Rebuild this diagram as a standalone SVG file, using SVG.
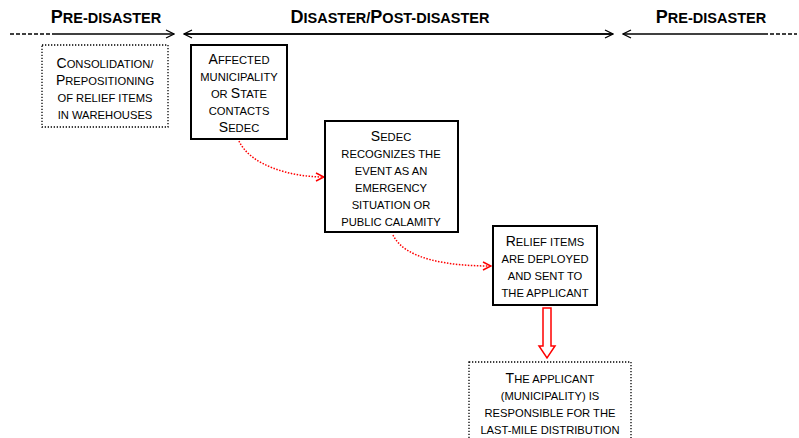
<svg xmlns="http://www.w3.org/2000/svg" width="799" height="438" viewBox="0 0 799 438">
<defs>
<style>
.t{font-family:"Liberation Sans",Arial,sans-serif;font-size:11.2px;fill:#000;text-anchor:middle}
.t .b{font-size:14px}
.h{font-family:"Liberation Sans",Arial,sans-serif;font-size:14.5px;font-weight:bold;fill:#000;text-anchor:middle}
.h .b{font-size:18px}
.solid{fill:#fff;stroke:#000;stroke-width:2}
.dot{fill:#fff;stroke:#000;stroke-width:1.3;stroke-dasharray:1.3 1.7}
.tl{stroke:#000;stroke-width:1.3;fill:none}
.dl{stroke:#000;stroke-width:1.3;fill:none;stroke-dasharray:4 2}
.rc{stroke:#f00;stroke-width:1.5;fill:none;stroke-dasharray:1.5 1.5}
</style>
<marker id="ah" viewBox="0 0 10 10" refX="9" refY="5" markerWidth="10" markerHeight="10" markerUnits="userSpaceOnUse" orient="auto">
<path d="M1,1 L9,5 L1,9" fill="none" stroke="#000" stroke-width="1.3"/>
</marker>
<marker id="rh" viewBox="0 0 10 10" refX="9" refY="5" markerWidth="10" markerHeight="10" markerUnits="userSpaceOnUse" orient="auto">
<path d="M1,1 L9,5 L1,9" fill="none" stroke="#f00" stroke-width="1.5"/>
</marker>
</defs>
<g id="timeline">
<text class="h" x="106" y="23"><tspan class="b">P</tspan>RE-DISASTER</text>
<text class="h" x="390" y="23"><tspan class="b">D</tspan>ISASTER/<tspan class="b">P</tspan>OST-DISASTER</text>
<text class="h" x="711" y="23"><tspan class="b">P</tspan>RE-DISASTER</text>
</g>
<g id="connectors">
<path class="dl" d="M10,34 H55"/>
<path class="tl" d="M55,34 H174" marker-end="url(#ah)"/>
<path class="tl" d="M612,34 H184" marker-end="url(#ah)"/>
<path class="tl" d="M184,34 H613" marker-end="url(#ah)"/>
<path class="tl" d="M764,34 H623" marker-end="url(#ah)"/>
<path class="dl" d="M764,34 H797"/>
<path class="rc" d="M239,141 C250,165 290,177 324,177" marker-end="url(#rh)"/>
<path class="rc" d="M393,235 C405,260 450,266 491,266" marker-end="url(#rh)"/>
<path d="M543,308 H551 V346 H555 L547,358 L539,346 H543 Z" fill="#fff" stroke="#f00" stroke-width="1.5"/>
</g>
<g id="n1">
<rect class="dot" x="42" y="45" width="126" height="82"/>
<text class="t" x="105" y="68"><tspan class="b">C</tspan>ONSOLIDATION/</text>
<text class="t" x="105" y="85"><tspan class="b">P</tspan>REPOSITIONING</text>
<text class="t" x="105" y="102">OF RELIEF ITEMS</text>
<text class="t" x="105" y="119">IN WAREHOUSES</text>
</g>
<g id="n2">
<rect class="solid" x="191" y="45" width="96" height="94"/>
<text class="t" x="239" y="64"><tspan class="b">A</tspan>FFECTED</text>
<text class="t" x="239" y="81">MUNICIPALITY</text>
<text class="t" x="239" y="98">OR <tspan class="b">S</tspan>TATE</text>
<text class="t" x="239" y="115">CONTACTS</text>
<text class="t" x="239" y="132"><tspan class="b">S</tspan>EDEC</text>
</g>
<g id="n3">
<rect class="solid" x="325" y="121" width="133" height="111"/>
<text class="t" x="391" y="141"><tspan class="b">S</tspan>EDEC</text>
<text class="t" x="391" y="158">RECOGNIZES THE</text>
<text class="t" x="391" y="175">EVENT AS AN</text>
<text class="t" x="391" y="192">EMERGENCY</text>
<text class="t" x="391" y="209">SITUATION OR</text>
<text class="t" x="391" y="226">PUBLIC CALAMITY</text>
</g>
<g id="n4">
<rect class="solid" x="493" y="226" width="104" height="79"/>
<text class="t" x="545" y="246"><tspan class="b">R</tspan>ELIEF ITEMS</text>
<text class="t" x="545" y="263">ARE DEPLOYED</text>
<text class="t" x="545" y="280">AND SENT TO</text>
<text class="t" x="545" y="297">THE APPLICANT</text>
</g>
<g id="n5">
<rect class="dot" x="469" y="362" width="162" height="80"/>
<text class="t" x="550" y="383"><tspan class="b">T</tspan>HE APPLICANT</text>
<text class="t" x="550" y="400">(MUNICIPALITY) IS</text>
<text class="t" x="550" y="417">RESPONSIBLE FOR THE</text>
<text class="t" x="550" y="434">LAST-MILE DISTRIBUTION</text>
</g>
</svg>
